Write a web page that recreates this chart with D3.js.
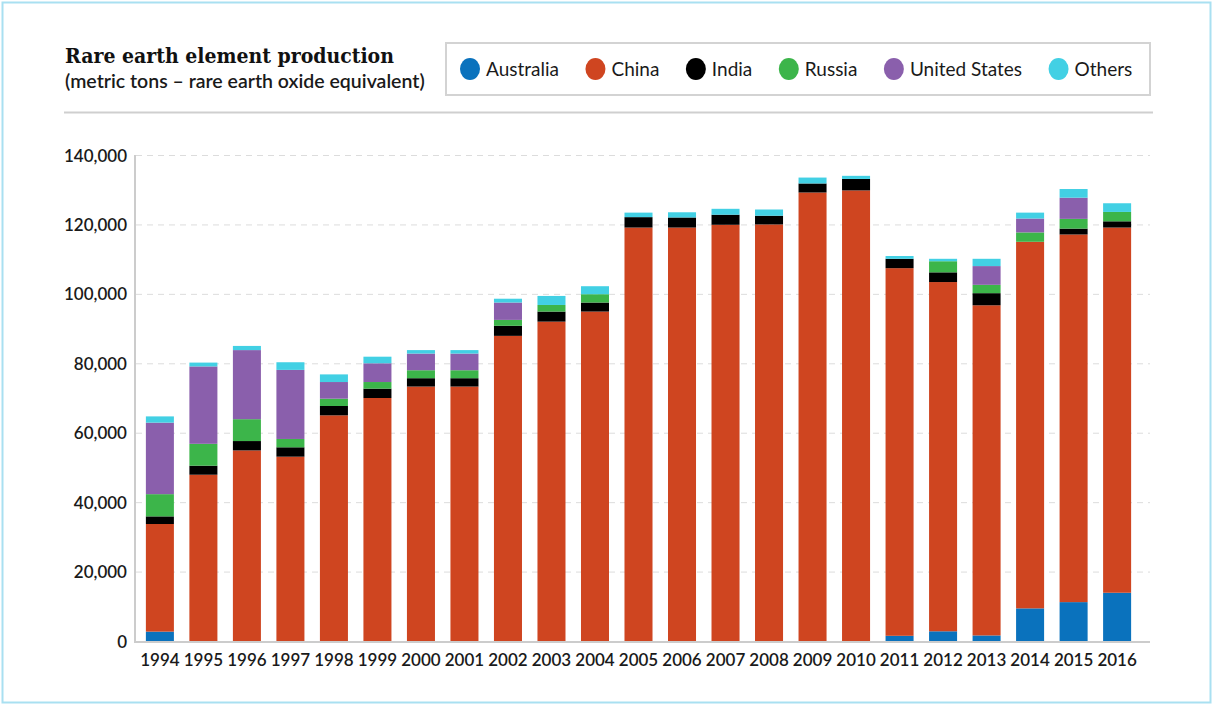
<!DOCTYPE html>
<html>
<head>
<meta charset="utf-8">
<script src="https://cdn.jsdelivr.net/npm/d3@7"></script>
<style>
  html, body { margin: 0; padding: 0; background: #fff; }
  svg { display: block; }
</style>
</head>
<body>
<svg id="chart" width="1213" height="705"></svg>
<script>
const years = ['1994','1995','1996','1997','1998','1999','2000','2001','2002','2003','2004','2005','2006','2007','2008','2009','2010','2011','2012','2013','2014','2015','2016'];
const seriesNames = ['Australia','China','India','Russia','United States','Others'];
const australia    = [2700,0,0,0,0,0,0,0,0,0,0,0,0,0,0,0,0,1500,2800,1600,9400,11200,13900];
const china        = [31000,47900,54900,53100,65000,70000,73300,73300,87900,92000,94900,119100,119100,119900,120000,129200,129800,105900,100600,95100,105600,105900,105200];
const india        = [2200,2600,2700,2700,2700,2700,2400,2400,2900,2900,2600,3000,2900,2900,2500,2600,3300,2700,2800,3500,0,1700,1800];
const russia       = [6400,6300,6300,2400,2100,1900,2300,2300,1700,1900,2400,0,0,0,0,0,0,0,3200,2400,2700,2800,2700];
const unitedStates = [20600,22300,19900,19900,4800,5400,4800,4800,5000,0,0,0,0,0,0,0,0,0,0,5400,4000,6100,0];
const others       = [1800,1100,1200,2200,2200,1900,1000,1000,1100,2600,2300,1300,1500,1700,1800,1700,900,800,700,2100,1700,2500,2500];
const yTicks = [0,20000,40000,60000,80000,100000,120000,140000];
const colors = ['#0a72bd','#cf4520','#000000','#3cb54a','#8a5fac','#42d0e4'];

const seriesValues = [australia, china, india, russia, unitedStates, others];
const table = years.map((y, i) => {
  const row = { year: y };
  seriesNames.forEach((s, k) => row[s] = seriesValues[k][i]);
  return row;
});

const svg = d3.select('#chart');
const W = 1213, H = 705;

// frame
svg.append('rect').attr('x', 2.5).attr('y', 2.5).attr('width', W - 5).attr('height', H - 5)
  .attr('fill', '#fff').attr('stroke', '#a9e0f1').attr('stroke-width', 2);

// title
svg.append('text').attr('x', 65).attr('y', 63)
  .attr('font-family', '"DejaVu Serif Condensed", "DejaVu Serif", serif')
  .style('font-stretch', 'condensed')
  .attr('font-weight', 'bold').attr('font-size', 21).attr('fill', '#111')
  .text('Rare earth element production');
svg.append('text').attr('x', 65).attr('y', 88)
  .attr('font-family', 'Lato, sans-serif').attr('font-weight', 600)
  .attr('font-size', 19.5).attr('fill', '#1a1a1a')
  .text('(metric tons – rare earth oxide equivalent)');

// header separator
svg.append('line').attr('x1', 64).attr('x2', 1153).attr('y1', 112.5).attr('y2', 112.5)
  .attr('stroke', '#cfcfcf').attr('stroke-width', 2);

// legend
svg.append('rect').attr('x', 446).attr('y', 43).attr('width', 704).attr('height', 52)
  .attr('fill', '#fff').attr('stroke', '#d3d3d3').attr('stroke-width', 2);
const lg = svg.append('g');
let lx = 470;
seriesNames.forEach((s, k) => {
  lg.append('ellipse').attr('cx', lx).attr('cy', 69).attr('rx', 10).attr('ry', 11).attr('fill', colors[k]);
  const t = lg.append('text').attr('x', lx + 16).attr('y', 75.5)
    .attr('font-family', 'Lato, sans-serif').attr('font-size', 19).attr('fill', '#1a1a1a')
    .text(s);
  const w = t.node().getComputedTextLength();
  lx = lx + 16 + w + 36.5;
});

// scales
const x = d3.scaleBand().domain(years).range([135, 1142]).paddingInner(0.356).paddingOuter(0.25);
const y = d3.scaleLinear().domain([0, 140000]).range([641, 155]);

// grid
svg.append('g').selectAll('line').data(yTicks.filter(d => d > 0)).join('line')
  .attr('x1', 136).attr('x2', 1150)
  .attr('y1', d => y(d) + 0.5).attr('y2', d => y(d) + 0.5)
  .attr('stroke', '#dcdcdc').attr('stroke-width', 1).attr('stroke-dasharray', '6,5');

// bars
const stack = d3.stack().keys(seriesNames);
const stacked = stack(table);
svg.append('g').selectAll('g').data(stacked).join('g')
  .attr('fill', (d, i) => colors[i])
  .selectAll('rect').data(d => d).join('rect')
  .attr('x', d => x(d.data.year))
  .attr('width', x.bandwidth())
  .attr('y', d => y(d[1]))
  .attr('height', d => Math.max(0, y(d[0]) - y(d[1])));

// axes lines
svg.append('line').attr('x1', 135).attr('x2', 135).attr('y1', 155).attr('y2', 642)
  .attr('stroke', '#cccccc').attr('stroke-width', 2);
svg.append('line').attr('x1', 134).attr('x2', 1150).attr('y1', 642).attr('y2', 642)
  .attr('stroke', '#cccccc').attr('stroke-width', 2);

// y labels
const yAxis = d3.axisLeft(y).tickValues(yTicks).tickFormat(d3.format(',')).tickSize(0).tickPadding(8);
const yg = svg.append('g').attr('transform', 'translate(135,0)').call(yAxis);
yg.select('.domain').remove();
yg.selectAll('text').attr('font-family', 'Lato, sans-serif').attr('font-size', 17)
  .attr('font-weight', 600).attr('fill', '#1a1a1a').attr('dy', '0.36em');

// x labels
const xAxis = d3.axisBottom(x).tickSize(0).tickPadding(12);
const xg = svg.append('g').attr('transform', 'translate(0,642)').call(xAxis);
xg.select('.domain').remove();
xg.selectAll('text').attr('font-family', 'Lato, sans-serif').attr('font-size', 17)
  .attr('font-weight', 600).attr('fill', '#1a1a1a');
</script>
</body>
</html>
